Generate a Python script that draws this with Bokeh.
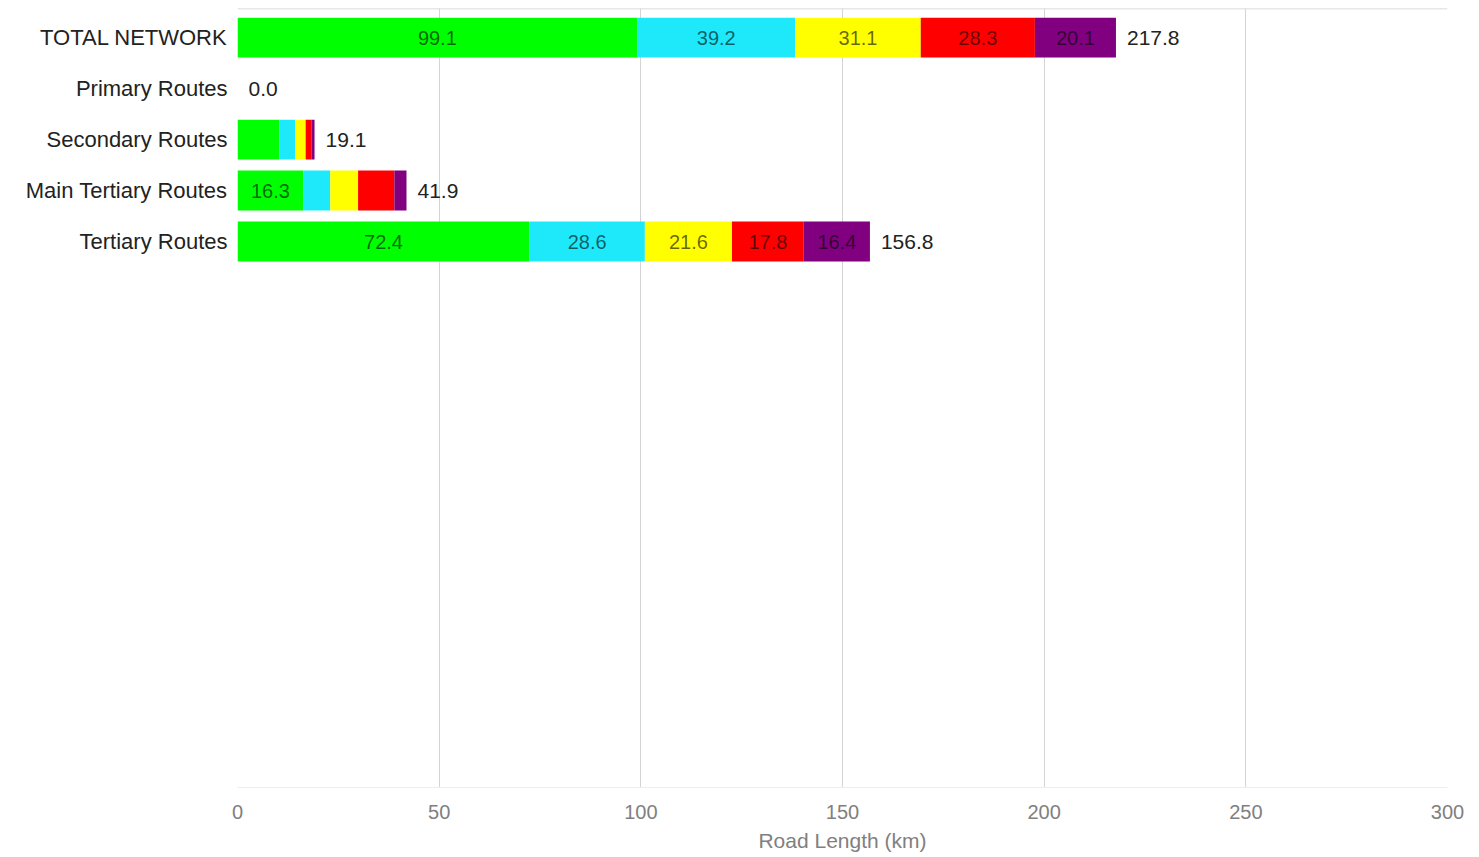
from bokeh.plotting import figure
from bokeh.models import ColumnDataSource, Range1d, FixedTicker, Span, LabelSet
from bokeh.core.properties import value
from bokeh.embed import file_html
from bokeh.resources import INLINE

# Road categories (top to bottom) and road length per condition class (km)
categories = ["TOTAL NETWORK", "Primary Routes", "Secondary Routes",
              "Main Tertiary Routes", "Tertiary Routes"]
series_names = ["Good", "Fair", "Poor", "Bad", "Very Bad"]
series_colors = ["#00ff00", "#1ee9fb", "#ffff00", "#ff0000", "#800080"]
good = [99.1, 0.0, 10.4, 16.3, 72.4]
fair = [39.2, 0.0, 3.9, 6.7, 28.6]
poor = [31.1, 0.0, 2.6, 6.9, 21.6]
bad = [28.3, 0.0, 1.5, 9.0, 17.8]
very_bad = [20.1, 0.0, 0.7, 3.0, 16.4]
x_ticks = [0, 50, 100, 150, 200, 250, 300]

series = [good, fair, poor, bad, very_bad]
rows = list(range(len(categories)))
FONT = "Liberation Sans"

W, H = 1479, 857
p = figure(width=W, height=H, output_backend="svg", toolbar_location=None,
           x_range=Range1d(0, 300), y_range=Range1d(14.706, -0.569),
           min_border_left=237, min_border_right=32,
           min_border_top=8, min_border_bottom=70)
p.outline_line_color = None
p.background_fill_color = "white"
p.border_fill_color = "white"

# Stacked segments
left = [0.0] * len(categories)
seg_x, seg_y, seg_txt = [], [], []
for vals, color, name in zip(series, series_colors, series_names):
    right = [l + v for l, v in zip(left, vals)]
    src = ColumnDataSource(dict(y=rows, left=left, right=right))
    p.hbar(y="y", left="left", right="right", height=0.78, source=src,
           fill_color=color, line_color=None)
    for r, l, v in zip(rows, left, vals):
        if v >= 12:
            seg_x.append(l + v / 2)
            seg_y.append(r)
            seg_txt.append(f"{v:.1f}")
    left = right

totals = left
seg_src = ColumnDataSource(dict(x=seg_x, y=seg_y, t=seg_txt))
p.add_layout(LabelSet(x="x", y="y", text="t", source=seg_src,
                      text_align="center", text_baseline="middle",
                      text_font=value(FONT), text_font_size="20px",
                      text_color="black", text_alpha=0.6))

tot_src = ColumnDataSource(dict(x=totals, y=rows, t=[f"{t:.1f}" for t in totals]))
p.add_layout(LabelSet(x="x", y="y", text="t", source=tot_src, x_offset=11,
                      text_align="left", text_baseline="middle",
                      text_font=value(FONT), text_font_size="21px",
                      text_color="#222222"))

# Top border line
p.add_layout(Span(location=-0.569, dimension="width", line_color="#d0d0d0",
                  line_width=1.5))

# Grid
p.ygrid.grid_line_color = None
p.xgrid.grid_line_color = "#d4d4d4"
p.xgrid.ticker = FixedTicker(ticks=x_ticks)

# X axis
p.xaxis.ticker = FixedTicker(ticks=x_ticks)
p.xaxis.axis_line_color = "#eeeeee"
p.xaxis.major_tick_line_color = None
p.xaxis.minor_tick_line_color = None
p.xaxis.major_label_text_font = FONT
p.xaxis.major_label_text_font_size = "20px"
p.xaxis.major_label_text_color = "#808080"
p.xaxis.major_label_standoff = 11
p.xaxis.axis_label = "Road Length (km)"
p.xaxis.axis_label_text_font = FONT
p.xaxis.axis_label_text_font_size = "21px"
p.xaxis.axis_label_text_font_style = "normal"
p.xaxis.axis_label_text_color = "#808080"
p.xaxis.axis_label_standoff = 7

# Y axis with category names
p.yaxis.ticker = FixedTicker(ticks=rows)
p.yaxis.major_label_overrides = {r: c for r, c in zip(rows, categories)}
p.yaxis.axis_line_color = None
p.yaxis.major_tick_line_color = None
p.yaxis.minor_tick_line_color = None
p.yaxis.major_label_text_font = FONT
p.yaxis.major_label_text_font_size = "22px"
p.yaxis.major_label_text_color = "#222222"
p.yaxis.major_label_standoff = 4

open("out.html", "w").write(file_html(p, INLINE))
